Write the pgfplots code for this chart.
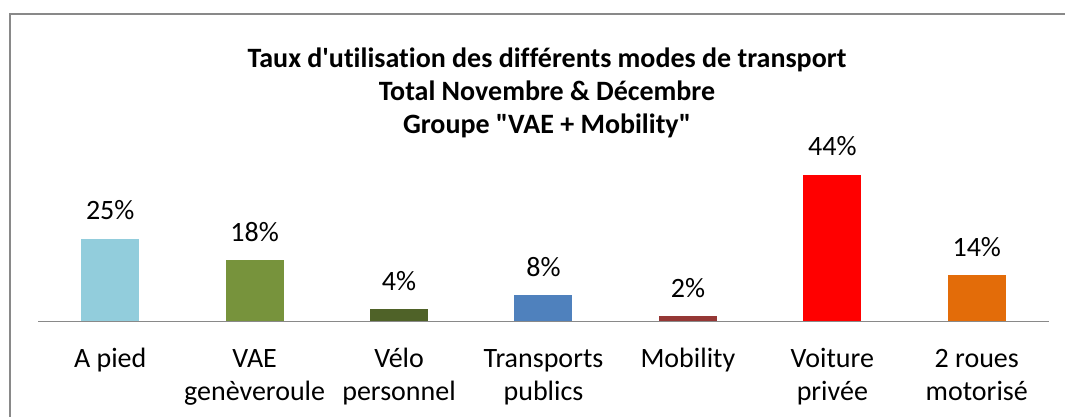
\documentclass[border=0pt]{standalone}
\usepackage{pgfplots}
\pgfplotsset{compat=1.18}
\usepackage{fontspec}
\setmainfont{Carlito}[Ligatures={TeXOff,CommonOff}]
\definecolor{c1}{HTML}{92CDDC}
\definecolor{c2}{HTML}{77933C}
\definecolor{c3}{HTML}{4F6228}
\definecolor{c4}{HTML}{4F81BD}
\definecolor{c5}{HTML}{953735}
\definecolor{c6}{HTML}{FF0000}
\definecolor{c7}{HTML}{E36C09}
\definecolor{fr}{HTML}{898989}
\begin{document}
\begin{tikzpicture}[x=1pt,y=1pt]
\useasboundingbox (0,0) rectangle (1065,417);
\clip (0,0) rectangle (1065,417);
\draw[fr, line width=2pt] (10,-20) -- (10,403) -- (1080,403);
\node[font=\bfseries\fontsize{28}{33}\selectfont, align=center, anchor=base, inner sep=0pt] at (547,283)
 {Taux d'utilisation des différents modes de transport\\Total Novembre \& Décembre\\Groupe "VAE + Mobility"};
\begin{axis}[
  at={(38pt,95.5pt)}, anchor=south west,
  scale only axis, width=1011pt, height=167pt,
  xmin=-0.5, xmax=6.5, ymin=0, ymax=50,
  axis x line*=bottom, hide y axis,
  x axis line style={fr, line width=1.5pt},
  xtick={0,1,2,3,4,5,6},
  major tick length=0pt,
  xticklabels={A pied\\\mbox{}, VAE\\genèveroule, Vélo\\personnel, Transports\\publics, Mobility\\\mbox{}, Voiture\\privée, 2 roues\\motorisé},
  xticklabel style={font=\fontsize{28}{33}\selectfont, align=center, anchor=base, yshift=-79pt, inner sep=0pt},
  ybar, bar width=58pt, bar shift=0pt,
  point meta=explicit symbolic,
  nodes near coords,
  nodes near coords style={font=\fontsize{28}{33}\selectfont, anchor=base, yshift=19pt, inner sep=0pt},
  clip=false,
]
\addplot[fill=c1, draw=none] coordinates {(0,24.8) [25\%]};
\addplot[fill=c2, draw=none] coordinates {(1,18.4) [18\%]};
\addplot[fill=c3, draw=none] coordinates {(2,3.6) [4\%]};
\addplot[fill=c4, draw=none] coordinates {(3,7.9) [8\%]};
\addplot[fill=c5, draw=none] coordinates {(4,1.6) [2\%]};
\addplot[fill=c6, draw=none] coordinates {(5,44.0) [44\%]};
\addplot[fill=c7, draw=none] coordinates {(6,13.8) [14\%]};
\end{axis}
\end{tikzpicture}
\end{document}
